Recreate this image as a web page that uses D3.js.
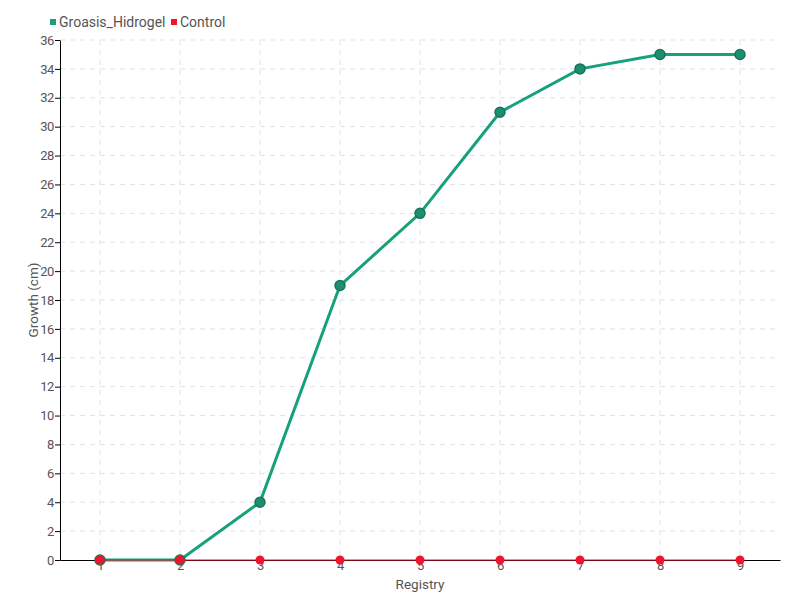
<!DOCTYPE html>
<html><head><meta charset="utf-8">
<script src="https://cdn.jsdelivr.net/npm/d3@7"></script>
<style>
body{margin:0;background:#fff;}
text{font-family:Roboto,"DejaVu Sans",sans-serif;}
</style></head>
<body><svg id="c" width="800" height="600"></svg>
<script>
const categories = ["1","2","3","4","5","6","7","8","9"];
const groasis = [0,0,4,19,24,31,34,35,35];
const control = [0,0,0,0,0,0,0,0,0];
const yTicks = d3.range(0,37,2);
const seriesNames = ["Groasis_Hidrogel","Control"];
const colors = ["#17a07c","#f0142d"];

const svg = d3.select("#c");
const m = {l:60, r:20, t:40, b:40};
const W = 800, H = 600;
const x = d3.scalePoint().domain(categories).range([m.l, W-m.r]).padding(0.5);
const y = d3.scaleLinear().domain([0,36]).range([H-m.b, m.t]);

// grid
const g = svg.append("g");
g.selectAll("line.h").data(yTicks.filter(d=>d>0)).join("line")
 .attr("x1",m.l).attr("x2",W-m.r).attr("y1",d=>y(d)).attr("y2",d=>y(d))
 .attr("stroke","#e2e2e2").attr("stroke-dasharray","5,5");
g.selectAll("line.v").data(categories).join("line")
 .attr("x1",d=>x(d)).attr("x2",d=>x(d)).attr("y1",m.t).attr("y2",H-m.b)
 .attr("stroke","#e2e2e2").attr("stroke-dasharray","5,5");

// axes
const yAxis = svg.append("g").attr("transform",`translate(${m.l},0)`)
 .call(d3.axisLeft(y).tickValues(yTicks).tickSize(5).tickSizeOuter(0).tickPadding(1));
const xAxis = svg.append("g").attr("transform",`translate(0,${H-m.b})`)
 .call(d3.axisBottom(x).tickSize(0).tickPadding(1));
[yAxis,xAxis].forEach(a=>{
  a.selectAll("text").attr("fill","#555").style("font-size","13px").style("letter-spacing","-0.4px");
  a.select(".domain").attr("stroke","#000");
  a.selectAll(".tick line").attr("stroke","#000");
});
xAxis.selectAll("text").attr("dy","0.7em");

// titles
svg.append("text").attr("x",(m.l+W-m.r)/2).attr("y",589).attr("text-anchor","middle")
 .attr("fill","#555").style("font-size","13.5px").text("Registry");
svg.append("text").attr("transform",`translate(38,${(m.t+H-m.b)/2}) rotate(-90)`)
 .attr("text-anchor","middle").attr("fill","#555").style("font-size","13.5px").text("Growth (cm)");

// lines
const line = d3.line().x((d,i)=>x(categories[i])).y(d=>y(d));
svg.append("path").datum(groasis).attr("d",line).attr("fill","none")
 .attr("stroke",colors[0]).attr("stroke-width",3);
svg.selectAll("circle.g").data(groasis).join("circle")
 .attr("cx",(d,i)=>x(categories[i])).attr("cy",d=>y(d)).attr("r",5)
 .attr("fill","#1b8f6f").attr("stroke","#18745a").attr("stroke-width",1.5);
svg.append("path").datum(control).attr("d",line).attr("fill","none")
 .attr("stroke",colors[1]).attr("stroke-width",1.2);
svg.selectAll("circle.c").data(control).join("circle")
 .attr("cx",(d,i)=>x(categories[i])).attr("cy",d=>y(d)).attr("r",4.5)
 .attr("fill",colors[1]);

// legend
const leg = svg.append("g");
const legX = [50,171];
seriesNames.forEach((n,i)=>{
  leg.append("rect").attr("x",legX[i]).attr("y",19).attr("width",6).attr("height",6).attr("fill",colors[i]);
  leg.append("text").attr("x",legX[i]+9).attr("y",27).attr("fill","#555").style("font-size","14px").text(n);
});
</script></body></html>
